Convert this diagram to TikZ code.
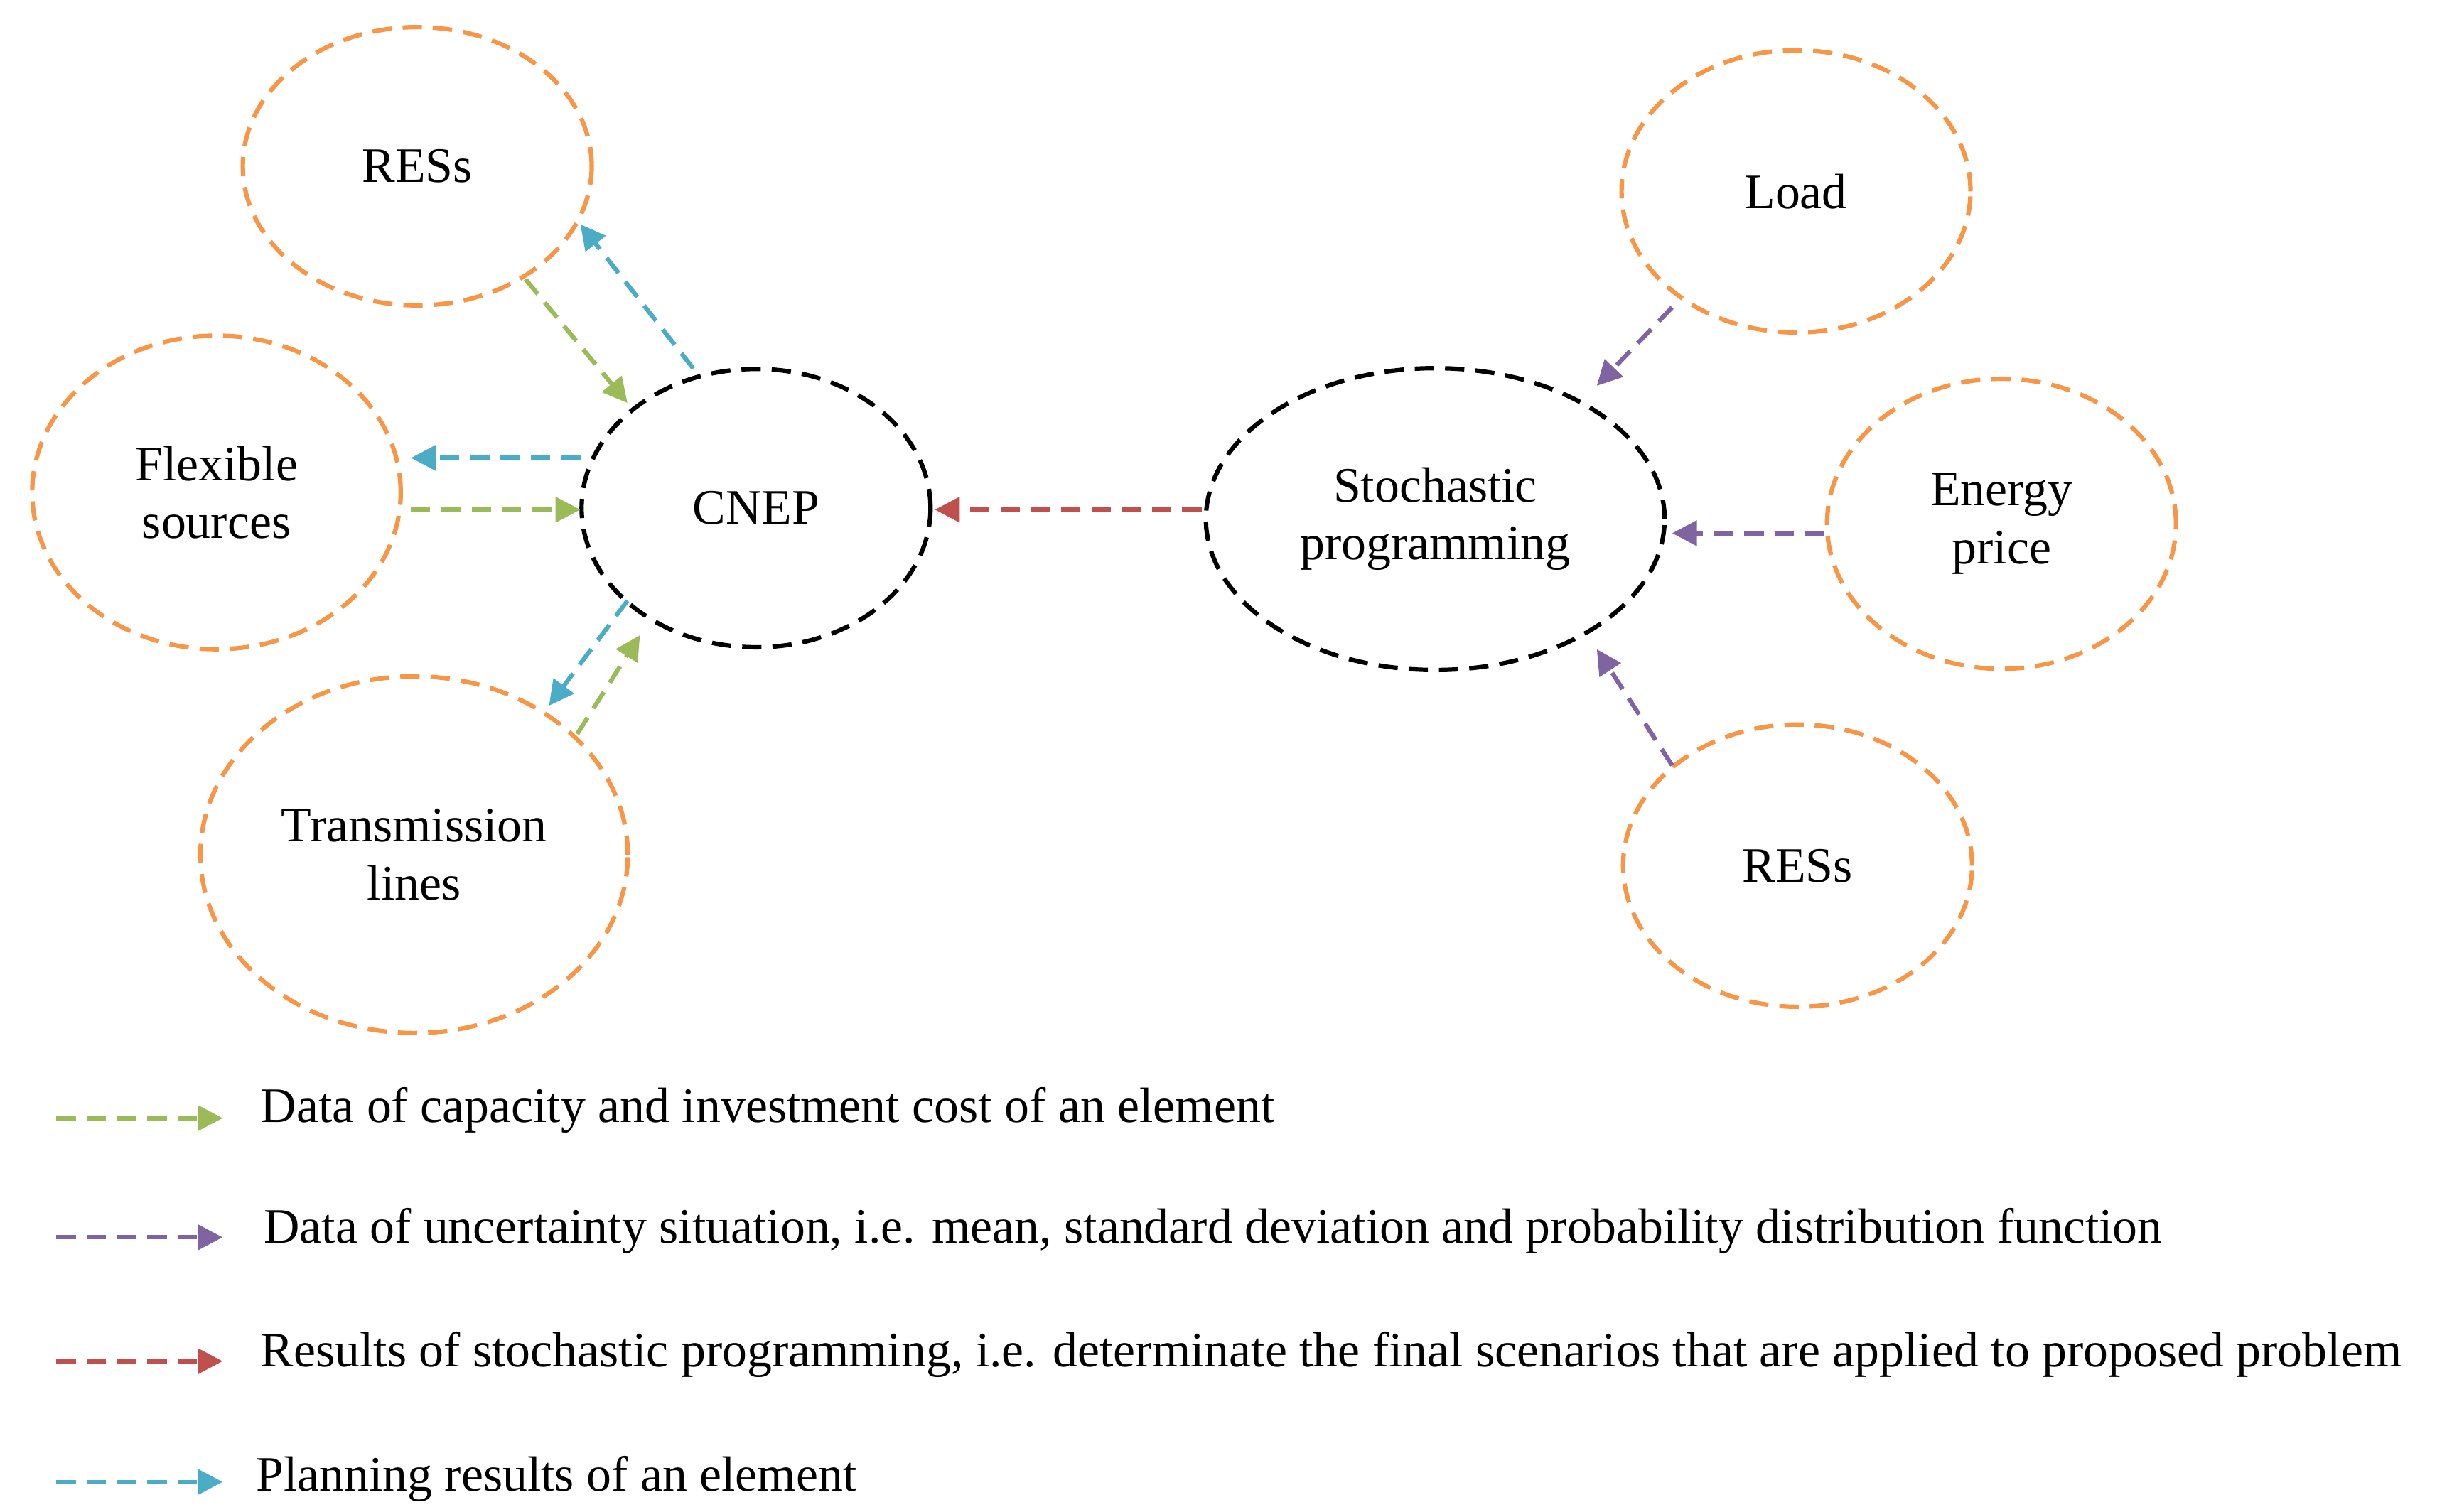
\documentclass[tikz,border=0pt]{standalone}
\usepackage{fontspec}
\setmainfont{Liberation Serif}
\usetikzlibrary{arrows.meta,shapes.geometric}
\definecolor{gr}{HTML}{9BBB59}
\definecolor{pu}{HTML}{8064A2}
\definecolor{rd}{HTML}{C0504D}
\definecolor{bl}{HTML}{4BACC6}
\definecolor{og}{HTML}{F79646}
\begin{document}
\begin{tikzpicture}[x=0.02cm,y=-0.02cm,
 el/.style={draw=og,line width=1.6pt,ellipse,dash pattern=on 7pt off 4pt,font=\fontsize{18}{21}\selectfont,align=center,inner sep=0pt},
 ell/.style={el,draw=black},
 ar/.style={line width=1.6pt,dash pattern=on 7pt off 4pt,-{Triangle[length=9pt,width=9pt]}},
 lg/.style={anchor=west,font=\fontsize{18}{21}\selectfont}]
\useasboundingbox (0,0) rectangle (1560,964);
\node[el,minimum width=4.45cm,minimum height=3.55cm] (res1) at (266,106) {RESs};
\node[el,minimum width=4.7cm,minimum height=4.0cm] (flex) at (138,314) {Flexible\\sources};
\node[el,minimum width=5.45cm,minimum height=4.55cm] (trans) at (264,545) {Transmission\\lines};
\node[ell,minimum width=4.45cm,minimum height=3.55cm] (cnep) at (482,324) {CNEP};
\node[ell,minimum width=5.85cm,minimum height=3.85cm] (sto) at (915,331) {Stochastic\\programming};
\node[el,minimum width=4.45cm,minimum height=3.6cm] (load) at (1145,122) {Load};
\node[el,minimum width=4.45cm,minimum height=3.7cm] (ep) at (1276,334) {Energy\\price};
\node[el,minimum width=4.45cm,minimum height=3.6cm] (res2) at (1146,552) {RESs};
% connector end points
\coordinate (a1) at (335,178); \coordinate (a2) at (400,257);
\coordinate (b1) at (442,235); \coordinate (b2) at (370,143);
\coordinate (c1) at (370,292); \coordinate (c2) at (262,292);
\coordinate (d1) at (262,325); \coordinate (d2) at (370,325);
\coordinate (e1) at (400,383); \coordinate (e2) at (350,450);
\coordinate (f1) at (368,468); \coordinate (f2) at (408,405);
\coordinate (g1) at (766,325); \coordinate (g2) at (596,325);
\coordinate (h1) at (1066,196); \coordinate (h2) at (1018,246);
\coordinate (i1) at (1163,340); \coordinate (i2) at (1066,340);
\coordinate (j1) at (1066,488); \coordinate (j2) at (1018,414);
\draw[ar,gr] (a1) -- (a2);
\draw[ar,bl] (b1) -- (b2);
\draw[ar,bl] (c1) -- (c2);
\draw[ar,gr] (d1) -- (d2);
\draw[ar,bl] (e1) -- (e2);
\draw[ar,gr] (f1) -- (f2);
\draw[ar,rd] (g1) -- (g2);
\draw[ar,pu] (h1) -- (h2);
\draw[ar,pu] (i1) -- (i2);
\draw[ar,pu] (j1) -- (j2);
% legend
\coordinate (l1a) at (36,713); \coordinate (l1b) at (142,713);
\coordinate (l2a) at (36,789); \coordinate (l2b) at (142,789);
\coordinate (l3a) at (36,868); \coordinate (l3b) at (142,868);
\coordinate (l4a) at (36,945); \coordinate (l4b) at (142,945);
\draw[ar,gr] (l1a) -- (l1b);
\draw[ar,pu] (l2a) -- (l2b);
\draw[ar,rd] (l3a) -- (l3b);
\draw[ar,bl] (l4a) -- (l4b);
\node[lg] (t1) at (160,708) {Data of capacity and investment cost of an element};
\node[lg] (t2) at (162,785) {Data of uncertainty situation, i.e. mean, standard deviation and probability distribution function};
\node[lg] (t3) at (160,864) {Results of stochastic programming, i.e. determinate the final scenarios that are applied to proposed problem};
\node[lg] (t4) at (157,943) {Planning results of an element};
\end{tikzpicture}
\end{document}
